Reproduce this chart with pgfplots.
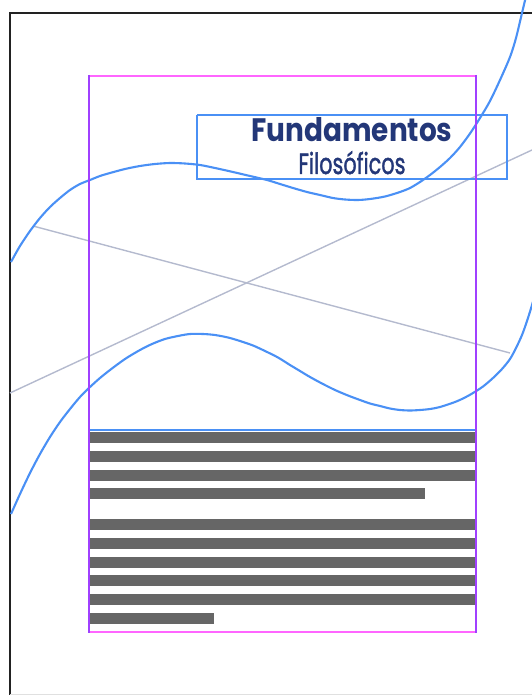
\documentclass[border=0pt]{standalone}
\usepackage{fontspec}
\setmainfont{Poppins}
\newfontfamily\popsemi{Poppins}[FakeBold=1.6]
\usepackage{pgfplots}
\pgfplotsset{compat=1.18}
\definecolor{curveblue}{RGB}{74,144,245}
\definecolor{navy}{RGB}{35,55,120}
\definecolor{thingray}{RGB}{180,186,206}
\definecolor{bargray}{RGB}{102,102,102}
\definecolor{pinkm}{RGB}{255,102,255}
\definecolor{purplem}{RGB}{160,64,255}
\definecolor{pageblack}{RGB}{34,34,34}
\begin{document}
\begin{tikzpicture}
\begin{axis}[width=532bp, height=695bp, scale only axis,
  xmin=0, xmax=532, ymin=0, ymax=695, y dir=reverse,
  hide axis, clip=true]
% page border
\addplot[pageblack, line width=2.8bp] coordinates {(10,720) (10,13) (560,13)};
\addplot[black!12, line width=1bp] coordinates {(10,694) (560,694)};
% thin grey lines
\addplot[thingray, line width=1.4bp] coordinates {(33,226) (510,353)};
\addplot[thingray, line width=1.4bp] coordinates {(10,393) (532,150)};
% upper wave
\addplot[curveblue, line width=2.1bp, smooth, tension=0.5] coordinates {
 (11,262) (20,246) (30,231) (40,218) (50,207) (60,198) (70,190) (80,184)
 (90,180) (100,176) (110,173) (125,169) (140,166) (155,164) (170,163)
 (185,163.5) (200,165) (215,168) (233,172) (250,176) (267,180) (280,184)
 (293,188) (307,192) (320,195) (333,198) (345,199.5) (358,200) (370,199)
 (385,196.5) (400,192) (410,188) (420,182) (430,175) (440,167) (450,158)
 (460,147) (470,133.5) (480,118) (490,101) (500,80) (510,57) (516,38)
 (522,13) (527,-8)};
% lower wave
\addplot[curveblue, line width=2.1bp, smooth, tension=0.5] coordinates {
 (11,514) (20,494) (30,473) (40,454) (50,437) (60,422) (70,409) (80,397)
 (90,387) (100,378) (110,370) (125,359) (140,350) (152,344) (165,339)
 (178,336) (190,334) (203,334) (215,335) (228,337.5) (240,341) (253,345.5)
 (265,351) (278,357.5) (290,365) (300,371) (310,377) (322,383.5) (335,390)
 (348,395.5) (360,400) (370,403.5) (380,406) (390,408.5) (400,410)
 (410,410.5) (420,410) (430,409) (440,407) (455,402) (465,397.5) (473,393)
 (483,386.5) (493,378) (502,369) (510,359) (516,348) (522,335) (527,321)
 (532,305) (540,277)};
% text bars
\addplot[bargray, line width=11bp] coordinates {(90,437) (475,437)};
\addplot[bargray, line width=11bp] coordinates {(90,456) (475,456)};
\addplot[bargray, line width=11bp] coordinates {(90,475) (475,475)};
\addplot[bargray, line width=11bp] coordinates {(90,493) (425,493)};
\addplot[bargray, line width=11bp] coordinates {(90,524) (475,524)};
\addplot[bargray, line width=11bp] coordinates {(90,543) (475,543)};
\addplot[bargray, line width=11bp] coordinates {(90,562) (475,562)};
\addplot[bargray, line width=11bp] coordinates {(90,580) (475,580)};
\addplot[bargray, line width=11bp] coordinates {(90,599) (475,599)};
\addplot[bargray, line width=11bp] coordinates {(90,618) (214,618)};
% blue rule above text
\addplot[curveblue, line width=2.2bp] coordinates {(90,430) (475,430)};
% title box
\addplot[curveblue, line width=2bp] coordinates {(197,115) (507,115) (507,179) (197,179) (197,115)};
% magenta frame
\addplot[pinkm, line width=2.5bp] coordinates {(89,76) (476,76)};
\addplot[pinkm, line width=2.5bp] coordinates {(89,632) (476,632)};
\addplot[purplem, line width=2.5bp] coordinates {(89,75) (89,633)};
\addplot[purplem, line width=2.5bp] coordinates {(476,75) (476,633)};
\node[anchor=base, inner sep=0pt, text=navy] at (axis cs:352,142)
  {\resizebox{201bp}{24bp}{\bfseries Fundamentos}};
\node[anchor=base, inner sep=0pt, text=navy] at (axis cs:352,174)
  {\resizebox{107bp}{23bp}{\popsemi Filosóficos}};
\end{axis}
\pgfresetboundingbox
\path[use as bounding box] (current axis.south west) rectangle (current axis.north east);
\end{tikzpicture}
\end{document}
